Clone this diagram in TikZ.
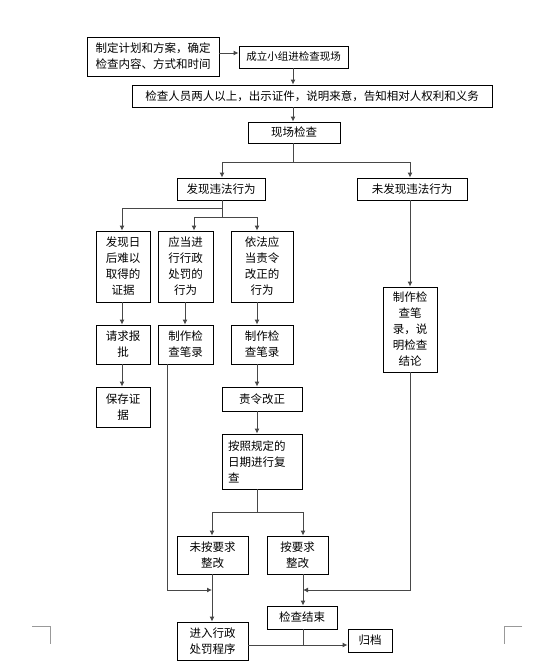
\documentclass[tikz,border=0pt]{standalone}
\usepackage{fontspec}
\setmainfont{Noto Sans CJK SC}
\usetikzlibrary{arrows.meta}
\newcommand\fsn{\fontsize{11.5pt}{16pt}\selectfont}
\newcommand\fss{\fontsize{10.5pt}{14pt}\selectfont}
\tikzset{
  bx/.style={draw=black, line width=0.9pt, inner sep=0pt, align=center, font=\fsn},
  wh/.style 2 args={minimum width=#1pt, minimum height=#2pt},
  conn/.style={draw=black!72, line width=0.9pt},
  arr/.style={conn, -{Latex[length=5pt,width=5pt]}},
  crop/.style={draw=black!40, line width=0.8pt}
}
\begin{document}
\begin{tikzpicture}[x=1pt,y=-1pt]
\fill[white] (0,0) rectangle (546,661);
\useasboundingbox (0,0) rectangle (546,661);

% boxes
\node[bx, wh={132}{39}] (b1) at (153,56.5) {制定计划和方案，确定\\检查内容、方式和时间};
\node[bx, wh={109}{22}, font=\fss] (b2) at (293.5,57) {成立小组进检查现场};
\node[bx, wh={360}{22}] (b3) at (312,96) {检查人员两人以上，出示证件，说明来意，告知相对人权利和义务};
\node[bx, wh={92}{21}] (b4) at (294,132.5) {现场检查};
\node[bx, wh={88}{22}] (fx) at (221,189) {发现违法行为};
\node[bx, wh={110}{22}] (wfx) at (412,189) {未发现违法行为};
\node[bx, wh={54}{71}] (A) at (123,266.5) {发现日\\后难以\\取得的\\证据};
\node[bx, wh={55}{71}] (B) at (185.5,266.5) {应当进\\行行政\\处罚的\\行为};
\node[bx, wh={62}{71}] (C) at (262,266.5) {依法应\\当责令\\改正的\\行为};
\node[bx, wh={54}{85}] (D) at (410,329.5) {制作检\\查笔\\录，说\\明检查\\结论};
\node[bx, wh={54}{39}] (A2) at (123,344.5) {请求报\\批};
\node[bx, wh={55}{39}] (B2) at (185.5,344.5) {制作检\\查笔录};
\node[bx, wh={62}{39}] (C2) at (262,344.5) {制作检\\查笔录};
\node[bx, wh={54}{40}] (A3) at (123,407) {保存证\\据};
\node[bx, wh={80}{24}] (C3) at (262,399) {责令改正};
\node[bx, wh={80}{55}, align=left, text width=68pt] (C4) at (262,461.5) {按照规定的\\日期进行复\\查};
\node[bx, wh={71}{38}] (E1) at (212.5,555) {未按要求\\整改};
\node[bx, wh={61}{38}] (E2) at (297.5,555) {按要求\\整改};
\node[bx, wh={71}{38}] (F1) at (212.5,641) {进入行政\\处罚程序};
\node[bx, wh={70}{23}] (F2) at (302,617.5) {检查结束};
\node[bx, wh={44}{23}] (F3) at (370,640.5) {归档};

% junction coordinates
\coordinate (r1) at (0,53);
\coordinate (sx) at (293,0);
\coordinate (j0) at (293,162);
\coordinate (jL) at (222,162);
\coordinate (jR) at (410,162);
\coordinate (k1) at (222,208);
\coordinate (k2) at (222,217);
\coordinate (kA) at (122,208);
\coordinate (kB) at (194,217);
\coordinate (kC) at (257,217);
\coordinate (xb2) at (185,0);
\coordinate (m0) at (257,512);
\coordinate (mL) at (212,512);
\coordinate (mR) at (303,512);
\coordinate (p1) at (167,590);
\coordinate (p2) at (212,590);
\coordinate (q1) at (410,590);
\coordinate (q2) at (303,590);
\coordinate (r2) at (0,645);
\coordinate (r3) at (303,645);

% connectors
\draw[arr] (b1.east |- r1) -- (b2.west |- r1);
\draw[arr] (b2.south -| sx) -- (b3.north -| sx);
\draw[arr] (b3.south -| sx) -- (b4.north -| sx);
\draw[conn] (b4.south -| sx) -- (j0);
\draw[conn] (jL) -- (jR);
\draw[arr] (jL) -- (fx.north -| jL);
\draw[arr] (jR) -- (wfx.north -| jR);
\draw[conn] (fx.south -| k1) -- (k2);
\draw[arr] (k1) -- (kA) -- (A.north -| kA);
\draw[conn] (kB) -- (kC);
\draw[arr] (kB) -- (B.north -| kB);
\draw[arr] (kC) -- (C.north -| kC);
\draw[arr] (A.south -| kA) -- (A2.north -| kA);
\draw[arr] (A2.south -| kA) -- (A3.north -| kA);
\draw[arr] (B.south -| xb2) -- (B2.north -| xb2);
\draw[arr] (C.south -| kC) -- (C2.north -| kC);
\draw[arr] (C2.south -| kC) -- (C3.north -| kC);
\draw[arr] (C3.south -| kC) -- (C4.north -| kC);
\draw[arr] (wfx.south -| jR) -- (D.north -| jR);
\draw[conn] (C4.south -| m0) -- (m0);
\draw[conn] (mL) -- (mR);
\draw[arr] (mL) -- (E1.north -| mL);
\draw[arr] (mR) -- (E2.north -| mR);
\draw[arr] (B2.south -| p1) -- (p1) -- (p2);
\draw[arr] (D.south -| q1) -- (q1) -- (q2);
\draw[arr] (E1.south -| mL) -- (F1.north -| mL);
\draw[arr] (E2.south -| mR) -- (F2.north -| mR);
\draw[arr] (F1.east |- r2) -- (F3.west |- r2);
\draw[conn] (F2.south -| r3) -- (r3);

% page crop marks
\draw[crop] (32,626) -- (50,626) -- (50,644);
\draw[crop] (522,626) -- (504,626) -- (504,644);
\end{tikzpicture}
\end{document}
